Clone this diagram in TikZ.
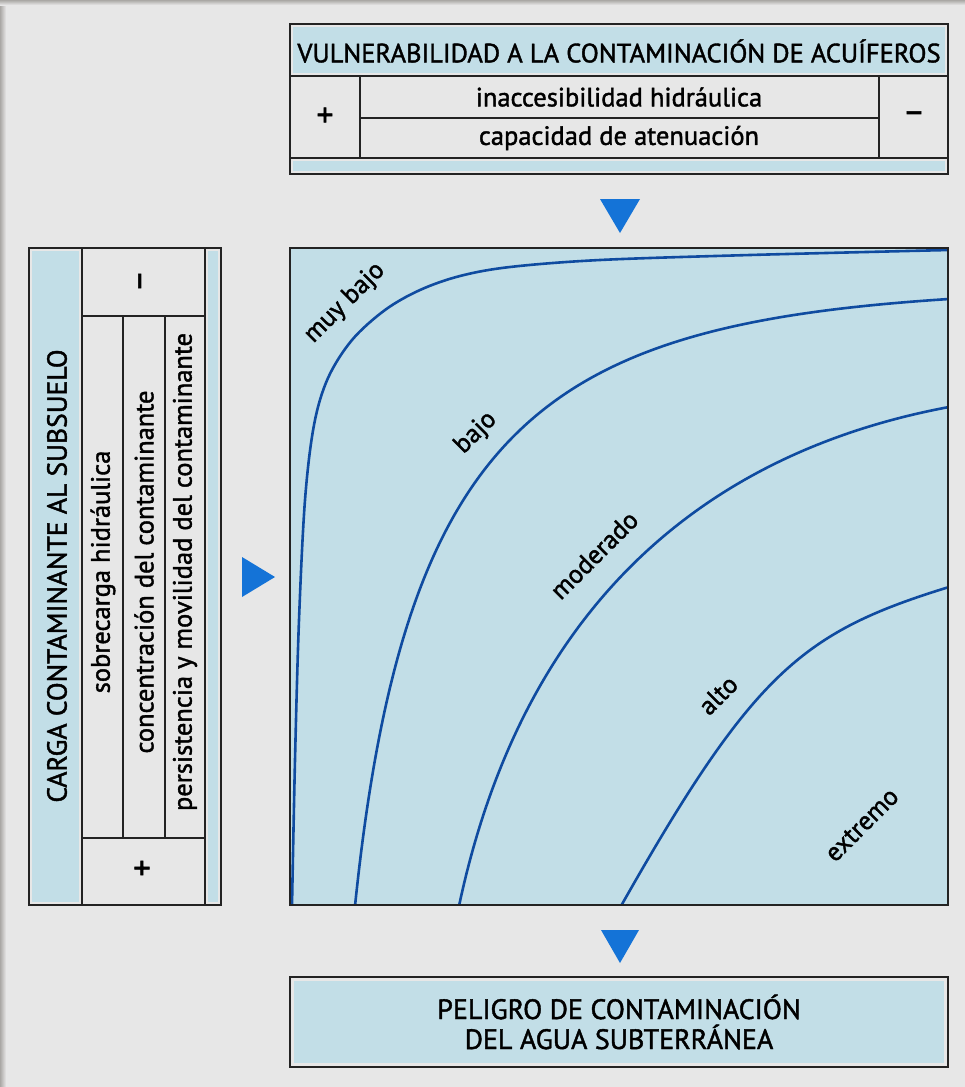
\documentclass[tikz,border=0pt]{standalone}
\usepackage{fontspec}
\setmainfont[FakeBold=1.5]{PT Sans}
\definecolor{pagebg}{RGB}{231,231,231}
\definecolor{edgegray}{RGB}{170,168,165}
\definecolor{cellblue}{RGB}{194,222,231}
\definecolor{frameline}{RGB}{35,35,35}
\definecolor{curveblue}{RGB}{15,75,160}
\definecolor{markblue}{RGB}{20,115,215}
\newcommand{\boxfont}{\fontsize{26.5}{30}\selectfont}
\newcommand{\sidefont}{\fontsize{27.5}{30}\selectfont}
\newcommand{\resfont}{\fontsize{28}{30}\selectfont}
\newcommand{\lblfont}{\fontsize{26}{30}\selectfont}
\newcommand{\signfont}{\fontsize{34}{34}\selectfont}
\tikzset{
  frame/.style={draw=frameline, line width=2pt},
  rule/.style={draw=frameline, line width=1.6pt},
  marker/.style={fill=markblue, draw=none},
  zone/.style={draw=curveblue, line width=2.6pt, line cap=round},
  txt/.style={font=\boxfont, inner sep=0pt, text=black},
  sign/.style={font=\signfont, inner sep=0pt, text=black},
  side/.style={font=\sidefont, inner sep=0pt, text=black, rotate=90},
  lbl/.style={font=\lblfont, inner sep=0pt, text=black, rotate=45},
}
\begin{document}
\begin{tikzpicture}[x=1pt, y=-1pt]
\useasboundingbox (0,0) rectangle (965,1087);
% page background with a soft shadowed edge on top and left
\fill[pagebg] (0,0) rectangle (965,1087);
\shade[left color=edgegray, right color=pagebg] (0,0) rectangle (6,1087);
\shade[top color=edgegray, bottom color=pagebg] (0,0) rectangle (965,5);

% ---------- vulnerability table ----------
\fill[cellblue] (293,27) rectangle (945,73);
\fill[cellblue] (293,161) rectangle (945,171);
\draw[frame] (290,24) rectangle (948,174);
\draw[rule] (290,76) -- (948,76);
\draw[rule] (290,158) -- (948,158);
\draw[rule] (360,76) -- (360,158);
\draw[rule] (879,76) -- (879,158);
\draw[rule] (360,118) -- (879,118);
\node[txt] (vtitle) at (619,51) {VULNERABILIDAD A LA CONTAMINACIÓN DE ACUÍFEROS};
\node[txt] (vrow1) at (619,97) {inaccesibilidad hidráulica};
\node[txt] (vrow2) at (619,138) {capacidad de atenuación};
\node[sign] (vplus) at (325,117) {+};
\node[sign] (vminus) at (914,117) {–};

% ---------- contaminant load table ----------
\fill[cellblue] (32,251) rectangle (79,902);
\fill[cellblue] (208,251) rectangle (218,902);
\draw[frame] (29,248) rectangle (221,905);
\draw[rule] (82,248) -- (82,905);
\draw[rule] (205,248) -- (205,905);
\draw[rule] (82,316) -- (205,316);
\draw[rule] (82,838) -- (205,838);
\draw[rule] (123,316) -- (123,838);
\draw[rule] (165,316) -- (165,838);
\node[side] (ctitle) at (57,576) {CARGA CONTAMINANTE AL SUBSUELO};
\node[txt, rotate=90] (ccol1) at (103,572) {sobrecarga hidráulica};
\node[txt, rotate=90] (ccol2) at (144,572) {concentración del contaminante};
\node[txt, rotate=90] (ccol3) at (185,572) {persistencia y movilidad del contaminante};
\node[sign, rotate=90] (cminus) at (144,281) {–};
\node[sign, rotate=90] (cplus) at (144,868) {+};

% ---------- markers ----------
\fill[marker] (600,199) -- (640,199) -- (620,233) -- cycle;
\fill[marker] (242,557) -- (242,597) -- (275,577) -- cycle;
\fill[marker] (601,930) -- (639,930) -- (620,963) -- cycle;

% ---------- hazard chart ----------
\fill[cellblue] (290,248) rectangle (948,905);
\begin{scope}
\clip (290,248) rectangle (948,905);
% muy bajo / bajo
\draw[zone] plot[smooth, tension=0.55] coordinates {
  (292,906) (295,760) (299,620) (305,500) (314,425) (328,378) (352,340)
  (385,310) (420,290) (460,276) (510,267) (600,260) (750,255) (949,250)};
% bajo / moderado
\draw[zone] (355,906) .. controls (405,420) and (547,325) .. (949,299);
% moderado / alto
\draw[zone] (459,906) .. controls (529,577) and (735,447) .. (949,407);
% alto / extremo
\draw[zone] (621,906) .. controls (754,671) and (803,632) .. (949,587);
\end{scope}
\draw[frame] (290,248) rectangle (948,905);
\node[lbl] (lvl1) at (345,303) {muy bajo};
\node[lbl] (lvl2) at (476,433) {bajo};
\node[lbl] (lvl3) at (594,555) {moderado};
\node[lbl] (lvl4) at (718,695) {alto};
\node[lbl] (lvl5) at (862,825) {extremo};

% ---------- hazard result ----------
\fill[cellblue] (294,981) rectangle (944,1063);
\draw[frame] (290,977) rectangle (948,1067);
\node[txt, align=center, font=\resfont] (hazard) at (619,1022)
  {PELIGRO DE CONTAMINACIÓN\\DEL AGUA SUBTERRÁNEA};
\end{tikzpicture}
\end{document}
